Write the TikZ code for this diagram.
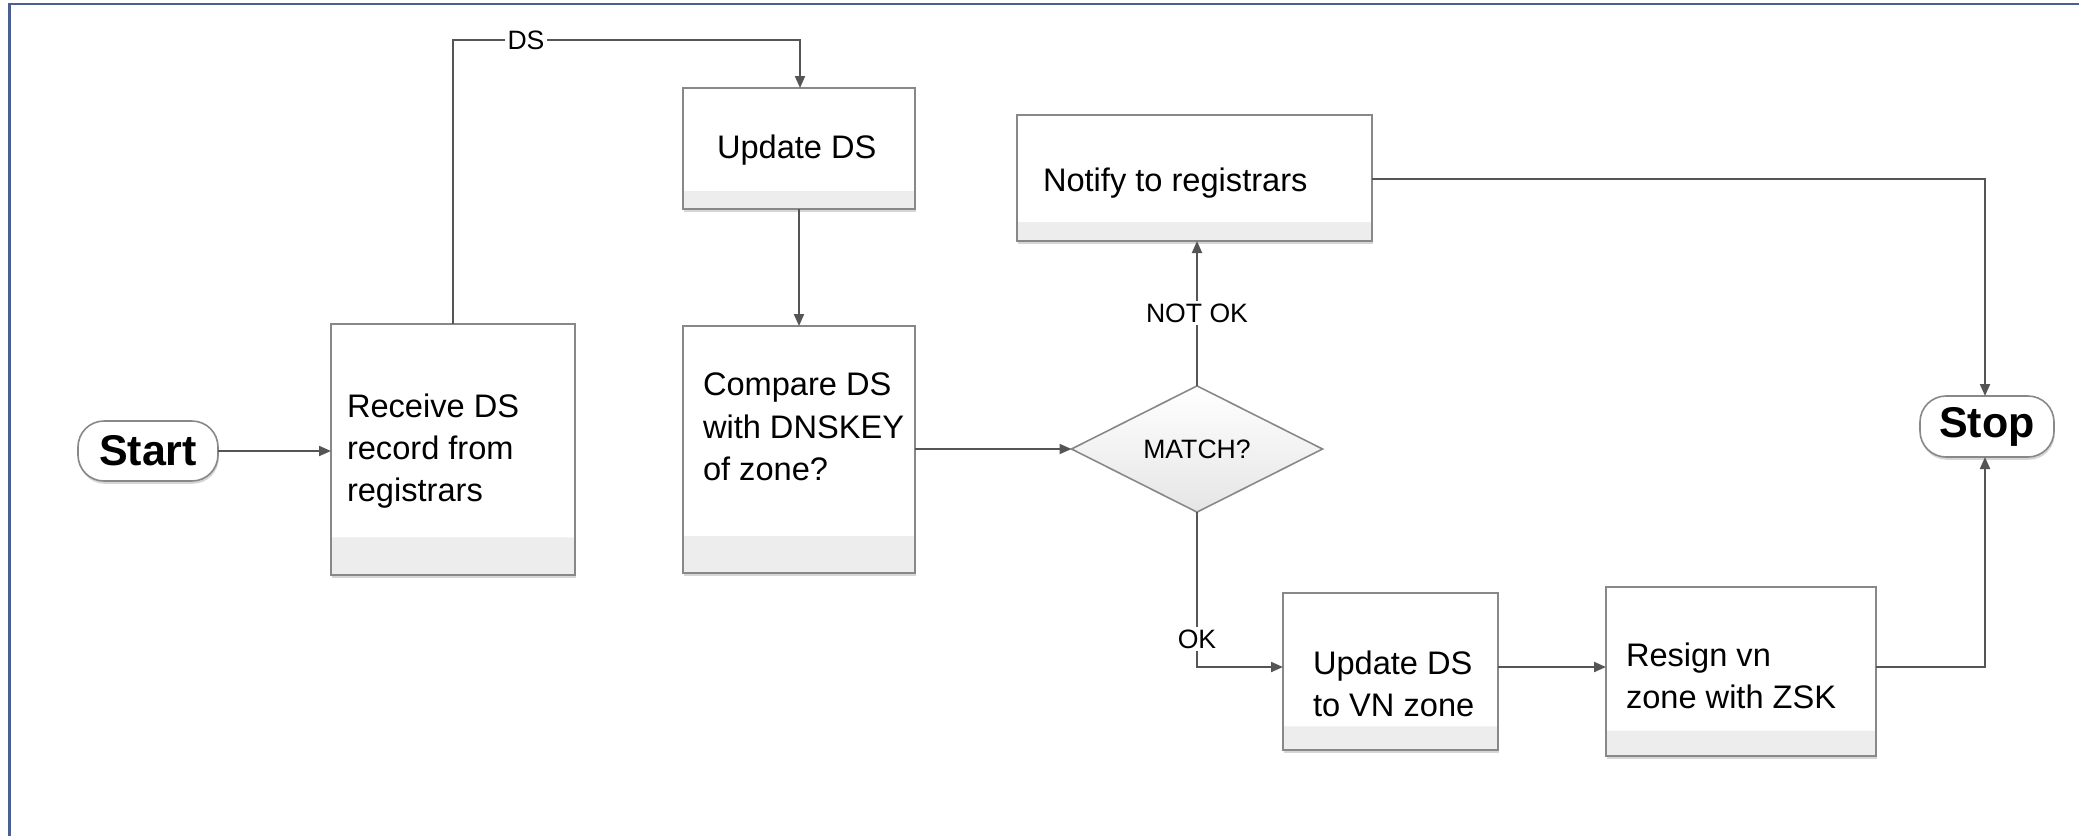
\documentclass[tikz,border=0pt]{standalone}
\usepackage{fontspec}
\setmainfont{Liberation Sans}
\usetikzlibrary{shapes.geometric,arrows.meta,shadows,calc}

\definecolor{framecol}{HTML}{4A5F92}
\definecolor{linecol}{HTML}{555555}
\definecolor{edgecol}{HTML}{888888}

\tikzset{
  every node/.style={inner sep=0pt, outer sep=0pt},
  procbox/.style={rectangle, draw=edgecol, line width=0.8pt,
    drop shadow={shadow xshift=0.4pt, shadow yshift=-1.4pt, opacity=0.35, fill=black!45},
    path picture={
      \fill[black!7] (path picture bounding box.south west) rectangle (path picture bounding box.north east);
      \path let \p1=(path picture bounding box.north west), \p2=(path picture bounding box.south east) in
        [fill=black!2] (\x1, \y1) rectangle (\x2, {\y2+0.15*(\y1-\y2)})
        [fill=white] (\x1+3.5pt, {\y1-0.1*(\y1-\y2)}) rectangle (\x2-2.5pt, {\y2+0.15*(\y1-\y2)});
    }},
  terminal/.style={rectangle, rounded corners=13pt, draw=edgecol, fill=white, line width=0.8pt,
    drop shadow={shadow xshift=0.4pt, shadow yshift=-1.4pt, opacity=0.35, fill=black!45},
    font=\fontsize{21.5}{24}\selectfont\bfseries},
  decision/.style={diamond, draw=edgecol, line width=0.8pt, top color=white, bottom color=black!10,
    minimum width=125.5pt, minimum height=61pt, font=\fontsize{13.3}{16}\selectfont},
  boxtext/.style={anchor=west, align=left, font=\fontsize{16.3}{21.2}\selectfont},
  flowlabel/.style={fill=white, inner sep=1.5pt, font=\fontsize{13.3}{16}\selectfont},
  flow/.style={draw=linecol, line width=1pt, -{Triangle[length=6pt, width=5pt]}},
}

\begin{document}
\begin{tikzpicture}[x=0.5pt, y=-0.5pt]
\useasboundingbox[fill=white] (0,0) rectangle (2079,836);

% page frame
\draw[framecol, line width=1.4pt] (9.5,836) -- (9.5,4) -- (2079,4);

% terminals
\node[terminal, minimum width=70pt, minimum height=30pt] (start) at (148,451) {Start};
\node[terminal, minimum width=67pt, minimum height=30.5pt] (stop) at (1987,426.5) {Stop};

% process boxes
\node[procbox, minimum width=122pt, minimum height=125.5pt] (recv) at (453,449.5) {};
\node[procbox, minimum width=116pt, minimum height=60.5pt] (upd) at (799,148.5) {};
\node[procbox, minimum width=116pt, minimum height=123.5pt] (cmp) at (799,449.5) {};
\node[procbox, minimum width=177.5pt, minimum height=63pt] (notify) at (1194.5,178) {};
\node[procbox, minimum width=107.5pt, minimum height=78.5pt] (vnupd) at (1390.5,671.5) {};
\node[procbox, minimum width=135pt, minimum height=84.5pt] (resign) at (1741,671.5) {};

% decision
\node[decision] (match) at (1197,449) {MATCH?};

% box captions
\node[boxtext] (recvtxt) at (347,451) {Receive DS\\record from\\registrars};
\node[boxtext] (updtxt) at (717,150) {Update DS};
\node[boxtext] (cmptxt) at (703,427) {Compare DS\\with DNSKEY\\of zone?};
\node[boxtext] (notifytxt) at (1043,183) {Notify to registrars};
\node[boxtext] (vnupdtxt) at (1313,684) {Update DS\\to VN zone};
\node[boxtext] (resigntxt) at (1626,676) {Resign vn\\zone with ZSK};

% connectors
\draw[flow] (start.east) -- (start.east -| recv.west);
\coordinate (dsup) at (453,40);
\coordinate (dsover) at (800,40);
\draw[flow] (recv.north -| dsup) -- (dsup) -- (dsover) -- (dsover |- upd.north);
\node[flowlabel] (dslbl) at (526,40) {DS};
\draw[flow] (upd.south) -- (cmp.north);
\draw[flow] (cmp.east |- match.west) -- (match.west);
\draw[flow] (match.north) -- (match.north |- notify.south);
\node[flowlabel] (notoklbl) at (1197,313) {NOT OK};
\coordinate (okturn) at (1197,667);
\draw[flow] (match.south) -- (okturn) -- (okturn -| vnupd.west);
\node[flowlabel] (oklbl) at (1197,639) {OK};
\draw[flow] (vnupd.east |- okturn) -- (okturn -| resign.west);
\coordinate (ntfturn) at (1985,179);
\draw[flow] (notify.east |- ntfturn) -- (ntfturn) -- (ntfturn |- stop.north);
\coordinate (rsgturn) at (1985,667);
\draw[flow] (resign.east |- rsgturn) -- (rsgturn) -- (rsgturn |- stop.south);
\end{tikzpicture}
\end{document}
